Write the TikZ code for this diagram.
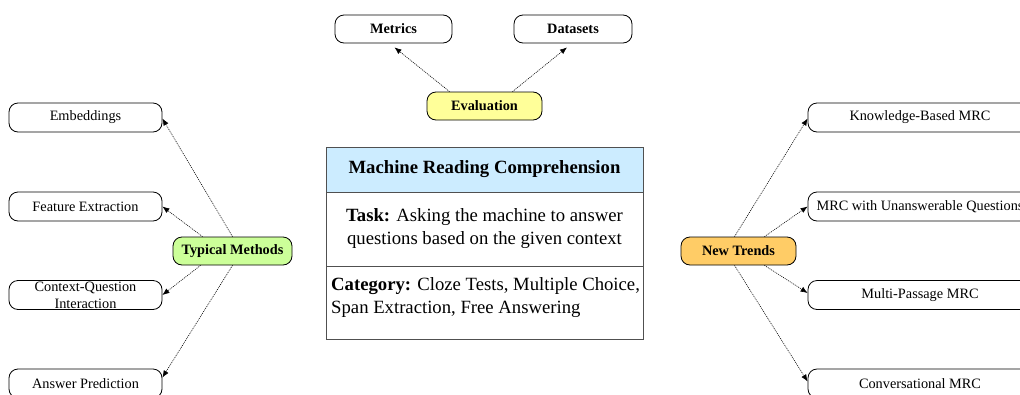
\documentclass[tikz,border=0pt]{standalone}
\usepackage{fontspec}
\setmainfont{Liberation Serif}
\usetikzlibrary{arrows.meta}
\definecolor{evalyellow}{RGB}{255,255,153}
\definecolor{tmgreen}{RGB}{204,255,153}
\definecolor{ntorange}{RGB}{255,204,102}
\definecolor{hdrblue}{RGB}{204,236,255}
\definecolor{boxgray}{RGB}{80,80,80}
\tikzset{
  leaf/.style={draw, line width=0.8pt, rounded corners=9pt, minimum height=29pt, minimum width=153pt,
    inner sep=1pt, align=center, font={\fontsize{14.3}{17}\selectfont}},
  hub/.style={draw, line width=0.8pt, rounded corners=9pt, minimum height=28pt,
    inner sep=1pt, align=center, font={\fontsize{14.3}{17}\selectfont\bfseries}},
  conn/.style={-{Latex[length=7pt,width=5.5pt]}, line width=0.6pt, dash pattern=on 1pt off 1pt},
  mrcbox/.style={draw=boxgray, line width=0.9pt, minimum width=317pt, inner sep=0pt},
  bigtext/.style={font={\fontsize{18.7}{23}\selectfont}, align=center, inner sep=0pt}
}
\begin{document}
\begin{tikzpicture}[x=1pt,y=-1pt]
\useasboundingbox (0,0) rectangle (1020,394);
\clip (0,0) rectangle (1020,394);
% top
\node[hub, minimum width=117pt] (met) at (393.5,29) {Metrics};
\node[hub, minimum width=118pt] (dat) at (573,29) {Datasets};
\node[hub, minimum width=115pt, fill=evalyellow] (eva) at (484.5,106) {Evaluation};
% left
\node[leaf] (emb) at (85.5,117.5) {Embeddings};
\node[leaf] (fex) at (85.5,206.5) {Feature Extraction};
\node[leaf] (cqi) at (85.5,295) {Context-Question\\Interaction};
\node[leaf] (ap)  at (85.5,383.5) {Answer Prediction};
\node[hub, minimum width=119pt, fill=tmgreen] (tm) at (232.5,251) {Typical Methods};
% right
\node[leaf, minimum width=224pt] (kb)  at (920,117.5) {Knowledge-Based MRC};
\node[leaf, minimum width=224pt] (unq) at (920,206.5) {MRC with Unanswerable Questions};
\node[leaf, minimum width=224pt] (mp)  at (920,295) {Multi-Passage MRC};
\node[leaf, minimum width=224pt] (cv)  at (920,383.5) {Conversational MRC};
\node[hub, minimum width=115pt, fill=ntorange] (nt) at (738.5,251) {New Trends};
% center box
\node[mrcbox, fill=hdrblue, minimum height=45pt, font={\fontsize{18.7}{23}\selectfont\bfseries}] (hdr) at (484.5,169.5) {Machine Reading Comprehension};
\node[mrcbox, minimum height=74pt] (task) at (484.5,229) {};
\node[bigtext] (tasktxt) at (484.5,229) {\textbf{Task:} Asking the machine to answer\\questions based on the given context};
\node[mrcbox, minimum height=73pt] (cat) at (484.5,302.5) {};
\node[bigtext, align=left, anchor=west] (cattxt) at (331,298) {\textbf{Category:} Cloze Tests, Multiple Choice,\\Span Extraction, Free Answering};
% connectors
\draw[conn] ([xshift=-35pt]eva.north) -- ([xshift=1pt,yshift=-4pt]met.south);
\draw[conn] ([xshift=28pt]eva.north) -- ([xshift=-6pt,yshift=-4pt]dat.south);
\draw[conn] (tm.north) -- ([yshift=-1pt]emb.east);
\draw[conn] ([xshift=-30pt]tm.north) -- (fex.east);
\draw[conn] ([xshift=-32pt]tm.south) -- (cqi.east);
\draw[conn] (tm.south) -- ([yshift=6pt]ap.east);
\draw[conn] ([xshift=-4pt]nt.north) -- ([yshift=-1pt]kb.west);
\draw[conn] ([xshift=26pt]nt.north) -- (unq.west);
\draw[conn] ([xshift=26pt]nt.south) -- ([yshift=2pt]mp.west);
\draw[conn] ([xshift=-4pt]nt.south) -- ([yshift=2pt]cv.west);
\end{tikzpicture}
\end{document}
